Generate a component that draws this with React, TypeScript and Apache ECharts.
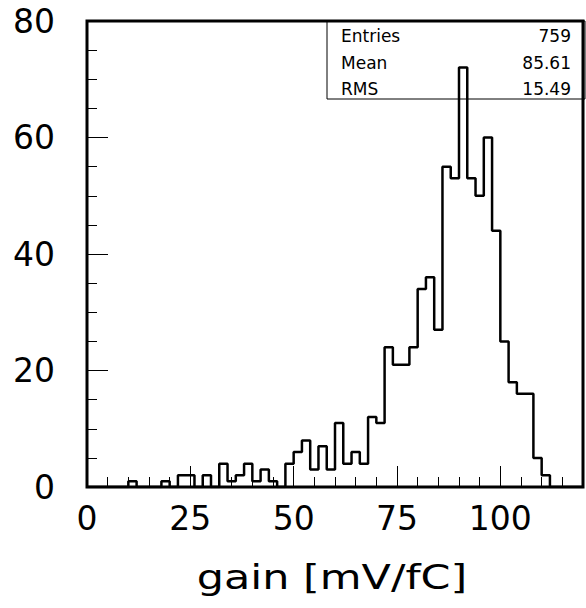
import React, { useEffect, useRef } from "react";
import * as echarts from "echarts";

// Histogram: 60 bins of width 2 over [0, 120]
const binLow = 0;
const binWidth = 2;
const binCounts = [
  0, 0, 0, 0, 0, 1, 0, 0, 0, 1,
  0, 2, 2, 0, 2, 0, 4, 1, 2, 4,
  1, 3, 1, 0, 4, 6, 8, 3, 7, 3,
  11, 4, 6, 4, 12, 11, 24, 21, 21, 24,
  34, 36, 27, 55, 53, 72, 53, 50, 60, 44,
  25, 18, 16, 16, 5, 2, 0, 0, 0, 0,
];
const xLabelValues = [0, 25, 50, 75, 100];
const statLabels = ["Entries", "Mean", "RMS"];
const statValues = ["759", "85.61", "15.49"];
const xTitle = "gain [mV/fC]";

const FONT = "DejaVu Sans";

export default function App() {
  const ref = useRef<HTMLDivElement | null>(null);

  useEffect(() => {
    if (!ref.current) return;
    const chart = echarts.init(ref.current, null, { renderer: "svg" });

    const xMax = binLow + binCounts.length * binWidth;
    const stepData: number[][] = binCounts.map((c, i) => [binLow + i * binWidth, c]);
    stepData.push([xMax, binCounts[binCounts.length - 1]]);

    const rowY = [36, 62.5, 89];
    const statGraphics: any[] = [];
    statLabels.forEach((lab, i) => {
      statGraphics.push({
        type: "text",
        x: 341,
        y: rowY[i],
        style: {
          text: lab,
          fill: "#000",
          font: `17px "${FONT}"`,
          textAlign: "left",
          textVerticalAlign: "middle",
        },
        z: 10,
      });
      statGraphics.push({
        type: "text",
        x: 571,
        y: rowY[i],
        style: {
          text: statValues[i],
          fill: "#000",
          font: `17px "${FONT}"`,
          textAlign: "right",
          textVerticalAlign: "middle",
        },
        z: 10,
      });
    });

    const option: any = {
      animation: false,
      backgroundColor: "#fff",
      grid: {
        left: 87,
        right: 1,
        top: 21,
        bottom: 121,
        show: true,
        borderColor: "#000",
        borderWidth: 3,
        backgroundColor: "transparent",
      },
      xAxis: [
        {
          type: "value",
          min: 0,
          max: xMax,
          interval: 25,
          position: "bottom",
          axisLine: { show: false },
          splitLine: { show: false },
          axisTick: { show: true, inside: true, length: 21, lineStyle: { color: "#000", width: 1 } },
          axisLabel: {
            show: true,
            margin: 15,
            color: "#000",
            fontSize: 33,
            fontFamily: FONT,
            formatter: (v: number) => (xLabelValues.indexOf(v) >= 0 ? String(v) : ""),
          },
        },
        {
          type: "value",
          min: 0,
          max: xMax,
          interval: 5,
          position: "bottom",
          axisLine: { show: false },
          splitLine: { show: false },
          axisTick: { show: true, inside: true, length: 10, lineStyle: { color: "#000", width: 1 } },
          axisLabel: { show: false },
        },
      ],
      yAxis: {
        type: "value",
        min: 0,
        max: 80,
        interval: 20,
        axisLine: { show: false },
        splitLine: { show: false },
        axisTick: { show: true, inside: true, length: 21, lineStyle: { color: "#000", width: 1 } },
        minorTick: { show: true, splitNumber: 4, length: 10, lineStyle: { color: "#000", width: 1 } },
        axisLabel: {
          margin: 32,
          color: "#000",
          fontSize: 33,
          fontFamily: FONT,
        },
      },
      series: [
        {
          type: "line",
          xAxisIndex: 0,
          yAxisIndex: 0,
          step: "end",
          showSymbol: false,
          symbol: "none",
          data: stepData,
          lineStyle: { color: "#000", width: 2.5 },
          z: 5,
        },
      ],
      graphic: [
        {
          type: "rect",
          shape: { x: 327, y: 21, width: 258, height: 78 },
          style: { fill: "none", stroke: "#000", lineWidth: 1 },
          z: 10,
        },
        ...statGraphics,
        {
          type: "text",
          x: 332,
          y: 577,
          scaleX: 1.3,
          style: {
            text: xTitle,
            fill: "#000",
            font: `33px "${FONT}"`,
            textAlign: "center",
            textVerticalAlign: "middle",
          },
          z: 10,
        },
      ],
    };

    chart.setOption(option);
    return () => {
      chart.dispose();
    };
  }, []);

  return (
    <div
      ref={ref}
      style={{ position: "fixed", left: 0, top: 0, width: 586, height: 608, background: "#fff" }}
    />
  );
}
